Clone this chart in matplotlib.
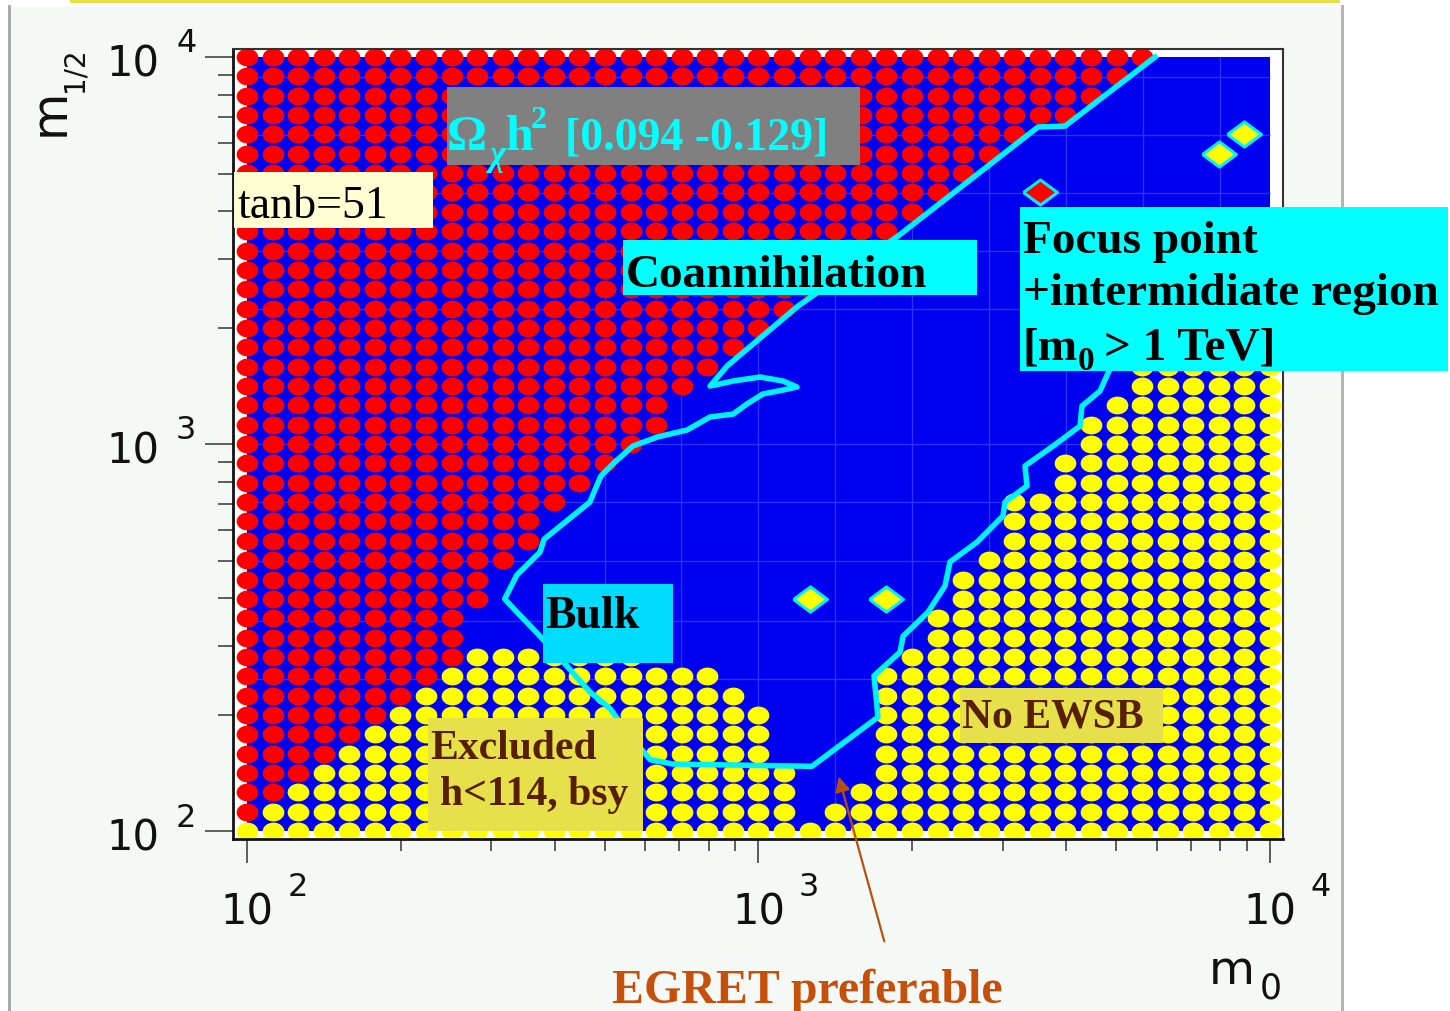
import numpy as np
import matplotlib
matplotlib.use('Agg')
import matplotlib.pyplot as plt
from matplotlib.patches import Rectangle, FancyArrowPatch
from matplotlib.path import Path

# scan grid of the mSUGRA plane: 41 x 41 log-spaced points, 100 GeV .. 10 TeV
m0_grid = np.logspace(2, 4, 41)
m12_grid = np.logspace(2, 4, 41)

# rows are m1/2 grid indices (bottom -> top)
# last column index of the red (stau LSP) region in each row, -1 = none
red_last = [-1, 0, 1, 2, 3, 4, 5, 6, 7, 8, 8, 8, 9, 9, 10, 11, 11, 12, 13, 14,
            15, 16, 16, 17, 18, 19, 20, 21, 22, 23, 24, 25, 26, 27, 28, 29, 30,
            32, 33, 34, 35]
# lower-left excluded block (h<114, b->s gamma), rows 0..9
excl_first = [0, 1, 2, 3, 4, 5, 6, 7, 8, 9]
excl_last = [21, 21, 21, 21, 20, 20, 20, 19, 18, 15]
# no EWSB region: first column in each row, 41 = none
noewsb_first = [22, 23, 24, 25, 25, 25, 25, 25, 25, 26, 27, 27, 28, 28, 29, 30,
                30, 30, 32, 32, 33, 33, 34, 35, 35, 36, 37, 38, 39, 40,
                41, 41, 41, 41, 41, 41, 41, 41, 41, 41, 41]
# single isolated scan points (column, row)
iso_yellow = [(22, 12), (25, 12), (38, 35), (39, 36)]
iso_red = [(31, 33)]

# WMAP band contour, Omega h^2 in [0.094, 0.129]
wmap_m0 = [5960, 3973, 3519, 1874, 1195, 868, 804, 892, 1007, 1117, 1189, 1117,
           1020, 949, 892, 804, 725, 633, 568, 524, 492, 477, 468, 426, 381, 374,
           337, 319, 337, 374, 422, 468, 513, 561, 614, 680, 1272, 1712, 1682,
           1891, 1917, 2145, 2315, 2368, 2674, 3006, 3033, 3349, 3319, 3765,
           4251, 4290, 4652, 4844, 5569]
wmap_m12 = [10000, 6630, 6594, 3447, 2273, 1591, 1412, 1455, 1490, 1455, 1404,
            1379, 1347, 1269, 1195, 1175, 1087, 1042, 988, 899, 827, 752, 708,
            640, 568, 526, 459, 398, 368, 319, 267, 229, 207, 176, 153, 149, 147,
            197, 252, 290, 319, 368, 430, 496, 558, 652, 708, 779, 878, 988,
            1113, 1254, 1371, 1545, 2369]

# faint background grid
grid_m0 = [500, 707, 1000, 1414, 2000, 2828, 4000, 5657, 8000]
grid_m12 = [247, 350, 500, 707, 1000, 2230, 3150, 4460, 6300, 8900]

W, H = 1450, 1012
BLUE = '#0000f0'


def fx(x):
    return x / W


def fy(y):
    return 1 - y / H


red_x, red_y, yel_x, yel_y = [], [], [], []
for j in range(41):
    for i in range(red_last[j] + 1):
        red_x.append(m0_grid[i])
        red_y.append(m12_grid[j])
    if j < len(excl_first):
        for i in range(excl_first[j], excl_last[j] + 1):
            yel_x.append(m0_grid[i])
            yel_y.append(m12_grid[j])
    for i in range(noewsb_first[j], 41):
        yel_x.append(m0_grid[i])
        yel_y.append(m12_grid[j])

fig = plt.figure(figsize=(W / 100, H / 100), dpi=100)
fig.patch.set_facecolor('white')

# slide background
fig.add_artist(Rectangle((fx(10), 0), fx(1333), fy(8), transform=fig.transFigure,
                         facecolor='#f5f9f6', edgecolor='none', zorder=-5))
fig.add_artist(Rectangle((fx(70), fy(4)), fx(1270), 4 / H, transform=fig.transFigure,
                         facecolor='#e6e04a', edgecolor='none', zorder=-4))
for xl, col in [(10, '#a8a8a8'), (1343, '#b4b4b4')]:
    fig.add_artist(Rectangle((fx(xl - 2), 0), 3 / W, fy(6), transform=fig.transFigure,
                             facecolor=col, edgecolor='none', zorder=-4))

ax = fig.add_axes([fx(233), fy(840), fx(1050), 790 / H])
ax.set_xscale('log')
ax.set_yscale('log')
ax.set_xlim(93.9, 10602)
ax.set_ylim(95.4, 10488)
ax.set_facecolor('white')

ax.add_patch(Rectangle((100, 100), 9900, 9900, facecolor=BLUE, edgecolor='none', zorder=0.5))
ax.vlines(grid_m0, 100, 10000, color='#3030fa', lw=1, zorder=0.6)
ax.hlines(grid_m12, 100, 10000, color='#3030fa', lw=1, zorder=0.6)

theta = np.linspace(0, 2 * np.pi, 40)
ellipse = Path(np.column_stack([1.22 * np.cos(theta), np.sin(theta)]))
ax.scatter(red_x, red_y, marker=ellipse, s=245, color='#ff0000', linewidths=0, zorder=2)
ax.scatter(yel_x, yel_y, marker=ellipse, s=245, color='#ffff00', linewidths=0, zorder=2)

diamond = [(-1.35, 0), (0, 1), (1.35, 0), (0, -1), (-1.35, 0)]
for pts, col in [(iso_yellow, '#ffff00'), (iso_red, '#ff0000')]:
    ax.scatter([m0_grid[i] for i, j in pts], [m12_grid[j] for i, j in pts],
               marker=diamond, s=600, color=col, edgecolors='#00f0ff',
               linewidths=2.2, zorder=2.5)

ax.plot(wmap_m0, wmap_m12, color='#00f0ff', lw=4, solid_joinstyle='round', zorder=3)

# frame and ticks
for side in ['left', 'bottom']:
    ax.spines[side].set_linewidth(2)
    ax.spines[side].set_color('#111111')
for side in ['top', 'right']:
    ax.spines[side].set_linewidth(1.5)
    ax.spines[side].set_color('#333333')
ax.set_xticks([100, 1000, 10000])
ax.set_yticks([100, 1000, 10000])
ax.tick_params(axis='y', which='major', direction='out', length=20, width=1.1, color='#333333')
ax.tick_params(axis='y', which='minor', direction='out', length=11, width=1.1, color='#333333')
ax.tick_params(axis='x', which='major', direction='out', length=17, width=1.1, color='#333333')
ax.tick_params(axis='x', which='minor', direction='out', length=8.5, width=1.1, color='#333333')
ax.tick_params(labelleft=False, labelbottom=False)

sans = 'DejaVu Sans'
for k, v in enumerate([100, 1000, 10000]):
    ax.annotate('10', xy=(v, 0), xycoords=('data', 'axes fraction'), xytext=(0, -61),
                textcoords='offset points', ha='center', va='baseline',
                fontsize=30, family=sans, color='#111111', annotation_clip=False)
    ax.annotate(str(k + 2), xy=(v, 0), xycoords=('data', 'axes fraction'), xytext=(29, -40),
                textcoords='offset points', ha='left', va='baseline',
                fontsize=23, family=sans, color='#111111', annotation_clip=False)
    ax.annotate('10', xy=(0, v), xycoords=('axes fraction', 'data'), xytext=(-53, -13),
                textcoords='offset points', ha='right', va='baseline',
                fontsize=30, family=sans, color='#111111', annotation_clip=False)
    ax.annotate(str(k + 2), xy=(0, v), xycoords=('axes fraction', 'data'), xytext=(-41, 4),
                textcoords='offset points', ha='left', va='baseline',
                fontsize=23, family=sans, color='#111111', annotation_clip=False)

# axis titles
fig.text(fx(1209), fy(984), 'm', fontsize=34, family=sans, color='#111111', va='baseline')
fig.text(fx(1260), fy(999), '0', fontsize=25, family=sans, color='#111111', va='baseline')
fig.text(fx(50), fy(112), 'm', fontsize=35, family=sans, color='#111111',
         rotation=90, ha='center', va='center')
fig.text(fx(74), fy(70), '1/2', fontsize=20, family=sans, color='#111111',
         rotation=90, ha='center', va='center')

# annotation boxes
serif = 'Liberation Serif'


def box(x0, y0, x1, y1, color):
    fig.add_artist(Rectangle((fx(x0), fy(y1)), fx(x1 - x0), (y1 - y0) / H,
                             transform=fig.transFigure, facecolor=color,
                             edgecolor='none', zorder=10))


def label(x, y, s, size, color='black', weight='bold', style='normal'):
    fig.text(fx(x), fy(y), s, fontsize=size, family=serif, weight=weight,
             style=style, color=color, va='baseline', ha='left', zorder=11)


box(447, 88, 860, 166, '#808080')
label(447, 150, '\u03a9', 36, color='#00ffff')
label(490, 165, '\u03c7', 25, color='#00ffff', style='italic')
label(506, 150, 'h', 36, color='#00ffff')
label(531, 128, '2', 23, color='#00ffff')
label(565, 150, '[0.094 -0.129]', 33, color='#00ffff')

box(234, 173, 433, 229, '#fffed2')
label(237, 218, 'tanb=51', 33, weight='normal')

box(623, 241, 977, 296, '#00ffff')
label(626, 287, 'Coannihilation', 34)

box(1020, 208, 1448, 372, '#00ffff')
label(1023, 253, 'Focus point', 34)
label(1023, 305, '+intermidiate region', 34)
label(1023, 360, '[m', 34)
label(1078, 370, '0', 24)
label(1104, 360, '> 1 TeV]', 34)

box(543, 585, 673, 664, '#00dcff')
label(545, 628, 'Bulk', 33)

brown = '#581e00'
box(428, 719, 643, 832, '#e6e04a')
label(430, 759, 'Excluded', 30, color=brown)
label(440, 805, 'h<114, bsy', 30, color=brown)

box(960, 689, 1163, 744, '#e6e04a')
label(962, 728, 'No EWSB', 30, color=brown)

label(612, 1003, 'EGRET preferable', 34.5, color='#c4500c')
fig.add_artist(FancyArrowPatch((fx(885), fy(945)), (fx(838), fy(775)),
                               transform=fig.transFigure, arrowstyle='-|>',
                               mutation_scale=22, color='#b85010', lw=1.6, zorder=11))

fig.savefig('out.png', dpi=100)
